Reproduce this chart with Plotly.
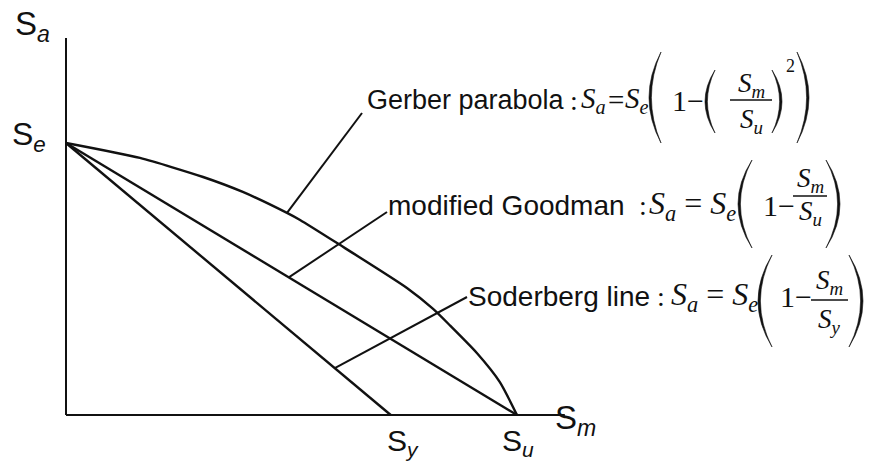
import plotly.graph_objects as go

W, H = 875, 465

# Strengths, normalised so that Su = Se = 1
S_U = 1.0
S_Y = 0.72
S_E = 1.0

# Gerber parabola sampled along the mean-stress axis
gerber_sm = [0.0, 0.164, 0.304, 0.392, 0.490, 0.519, 0.601, 0.756, 0.814, 0.851, 0.911, 0.962, 1.0]
gerber_sa = [1.0, 0.945, 0.875, 0.820, 0.743, 0.717, 0.632, 0.467, 0.390, 0.330, 0.228, 0.121, 0.0]

# Straight-line criteria
goodman_sm = [0.0, S_U]
goodman_sa = [S_E, 0.0]
soderberg_sm = [0.0, S_Y]
soderberg_sa = [S_E, 0.0]

# Axis extents
SM_MAX = 1.106
SA_MAX = 1.386

# Canvas mapping: origin pixel and scale of each axis
X0_PX, Y0_PX = 66, 415
PX_PER_SM, PX_PER_SA = 451, 272

SANS = "Liberation Sans, Arial, sans-serif"
SERIF = "Liberation Serif, Times New Roman, serif"
INK = "#111111"


def px_to_data(px, py):
    return (px - X0_PX) / PX_PER_SM, (Y0_PX - py) / PX_PER_SA


fig = go.Figure()


def line(xs, ys, width):
    fig.add_trace(go.Scatter(x=xs, y=ys, mode="lines",
                             line=dict(color=INK, width=width, shape="linear"),
                             hoverinfo="skip", showlegend=False))


# axes
line([0, SM_MAX], [0, 0], 2)
line([0, 0], [0, SA_MAX], 2)

# criteria
fig.add_trace(go.Scatter(x=gerber_sm, y=gerber_sa, mode="lines",
                         line=dict(color=INK, width=2.4, shape="spline", smoothing=0.6),
                         hoverinfo="skip", showlegend=False))
line(goodman_sm, goodman_sa, 2.4)
line(soderberg_sm, soderberg_sa, 2.4)

# leader lines from each curve to its label
g_idx = 4
gx, gy = px_to_data(362, 113)
line([gerber_sm[g_idx], gx], [gerber_sa[g_idx], gy], 2)

m_sm = 0.494
mx, my = px_to_data(387, 212)
line([m_sm, mx], [S_E * (1 - m_sm / S_U), my], 2)

s_sm = 0.596
sx, sy = px_to_data(467, 297)
line([s_sm, sx], [S_E * (1 - s_sm / S_Y), sy], 2)


def px(x):
    return x / W


def py(y):
    return 1 - y / H


def txt(x, y, s, size, family, anchor="left"):
    fig.add_annotation(xref="paper", yref="paper", x=px(x), y=py(y), text=s,
                       showarrow=False, xanchor=anchor, yanchor="middle",
                       font=dict(size=size, family=family, color=INK),
                       borderpad=0)


def paren(xl, xr, yt, yb, left=True, t=2.4):
    ym = (yt + yb) / 2
    if left:
        tip = xr
        c_out = 2 * xl - tip
        c_in = 2 * (xl + t) - tip
    else:
        tip = xl
        c_out = 2 * xr - tip
        c_in = 2 * (xr - t) - tip
    path = (f"M {px(tip)},{py(yt)} Q {px(c_out)},{py(ym)} {px(tip)},{py(yb)} "
            f"Q {px(c_in)},{py(ym)} {px(tip)},{py(yt)} Z")
    fig.add_shape(type="path", xref="paper", yref="paper", path=path,
                  fillcolor=INK, line=dict(color=INK, width=0.6))


def bar(x0, x1, y):
    fig.add_shape(type="line", xref="paper", yref="paper",
                  x0=px(x0), x1=px(x1), y0=py(y), y1=py(y),
                  line=dict(color=INK, width=1.4))


def S(sub):
    return f"<i>S</i><sub><i>{sub}</i></sub>"


LBL, MATH, FRAC = 28, 32, 27

# axis symbols
txt(14, 26, "S<sub><i>a</i></sub>", 33, SANS)
txt(11, 136, "S<sub><i>e</i></sub>", 32, SANS)
txt(554, 420, "S<sub><i>m</i></sub>", 33, SANS)
txt(386, 442, "S<sub><i>y</i></sub>", 30, SANS)
txt(501, 442, "S<sub><i>u</i></sub>", 30, SANS)

# Gerber parabola
yc = 100
txt(366, yc, "Gerber parabola", 27, SANS)
txt(569, yc, ":", LBL, SERIF)
txt(580, yc, S("a"), 29, SERIF)
txt(607, yc, "=", 29, SERIF)
txt(624, yc, S("e"), 29, SERIF)
paren(649, 661, 52, 143, True)
txt(671, yc, "1\u2212", 30, SERIF)
paren(705, 715, 70, 133, True)
txt(751, 85, S("m"), FRAC, SERIF, anchor="center")
bar(730, 772, 100)
txt(751, 121, S("u"), FRAC, SERIF, anchor="center")
paren(772, 782, 70, 133, False)
txt(790, 66, "2", 18, SERIF, anchor="center")
paren(797, 809, 52, 143, False)

# modified Goodman
yc = 205
txt(387, yc, "modified Goodman", LBL, SANS)
txt(638, yc, ":", LBL, SERIF)
txt(648, yc, S("a") + " = " + S("e"), MATH, SERIF)
paren(738, 752, 160, 248, True)
txt(762, yc, "1\u2212", 30, SERIF)
txt(810, 180, S("m"), FRAC, SERIF, anchor="center")
bar(793, 827, 196)
txt(810, 213, S("u"), FRAC, SERIF, anchor="center")
paren(826, 840, 160, 248, False)

# Soderberg line
yc = 296
txt(467, yc, "Soderberg line", LBL, SANS)
txt(656, yc, ":", LBL, SERIF)
txt(670, yc, S("a") + " = " + S("e"), MATH, SERIF)
paren(758, 772, 255, 347, True)
txt(779, yc, "1\u2212", 30, SERIF)
txt(829, 282, S("m"), FRAC, SERIF, anchor="center")
bar(811, 848, 300)
txt(829, 321, S("y"), FRAC, SERIF, anchor="center")
paren(849, 863, 255, 347, False)

fig.update_layout(
    width=W, height=H,
    margin=dict(l=0, r=0, t=0, b=0),
    paper_bgcolor="white", plot_bgcolor="white",
    xaxis=dict(range=[-X0_PX / PX_PER_SM, (W - X0_PX) / PX_PER_SM], visible=False,
               fixedrange=True),
    yaxis=dict(range=[-(H - Y0_PX) / PX_PER_SA, Y0_PX / PX_PER_SA], visible=False,
               fixedrange=True),
    showlegend=False,
)

fig.write_html("out.html")
